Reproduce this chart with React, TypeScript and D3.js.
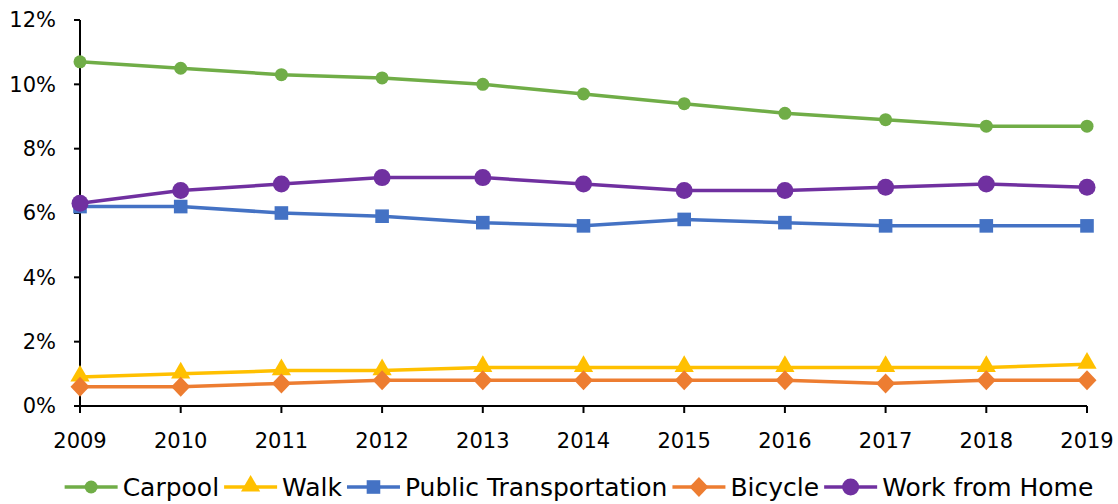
import React, { useEffect, useRef } from 'react'
import * as d3 from 'd3'

const years = ['2009', '2010', '2011', '2012', '2013', '2014', '2015', '2016', '2017', '2018', '2019']
const yTicks = [0, 2, 4, 6, 8, 10, 12]

const carpool = [10.7, 10.5, 10.3, 10.2, 10.0, 9.7, 9.4, 9.1, 8.9, 8.7, 8.7]
const walk = [0.9, 1.0, 1.1, 1.1, 1.2, 1.2, 1.2, 1.2, 1.2, 1.2, 1.3]
const publicTransportation = [6.2, 6.2, 6.0, 5.9, 5.7, 5.6, 5.8, 5.7, 5.6, 5.6, 5.6]
const bicycle = [0.6, 0.6, 0.7, 0.8, 0.8, 0.8, 0.8, 0.8, 0.7, 0.8, 0.8]
const workFromHome = [6.3, 6.7, 6.9, 7.1, 7.1, 6.9, 6.7, 6.7, 6.8, 6.9, 6.8]

type Marker = 'circle' | 'bigCircle' | 'triangle' | 'square' | 'diamond'

const series: { name: string; values: number[]; color: string; marker: Marker }[] = [
  { name: 'Carpool', values: carpool, color: '#70AD47', marker: 'circle' },
  { name: 'Walk', values: walk, color: '#FFC000', marker: 'triangle' },
  { name: 'Public Transportation', values: publicTransportation, color: '#4472C4', marker: 'square' },
  { name: 'Bicycle', values: bicycle, color: '#ED7D31', marker: 'diamond' },
  { name: 'Work from Home', values: workFromHome, color: '#7030A0', marker: 'bigCircle' },
]

const FONT = '"DejaVu Sans", sans-serif'

export default function App() {
  const svgRef = useRef<SVGSVGElement>(null)

  useEffect(() => {
    if (!svgRef.current) return
    const svg = d3.select(svgRef.current)
    svg.selectAll('*').remove()

    const left = 80
    const right = 1087
    const top = 20
    const bottom = 406

    const x = d3.scalePoint<string>().domain(years).range([left, right])
    const y = d3.scaleLinear().domain([0, 12]).range([bottom, top])

    const drawMarker = (g: d3.Selection<SVGGElement, unknown, null, undefined>, m: Marker, cx: number, cy: number, color: string) => {
      if (m === 'circle') {
        g.append('circle').attr('cx', cx).attr('cy', cy).attr('r', 6.5).attr('fill', color)
      } else if (m === 'bigCircle') {
        g.append('circle').attr('cx', cx).attr('cy', cy).attr('r', 8.5).attr('fill', color)
      } else if (m === 'diamond') {
        g.append('path')
          .attr('d', 'M0,-10L9.5,0L0,10L-9.5,0Z')
          .attr('transform', `translate(${cx},${cy})`)
          .attr('fill', color)
      } else {
        const type = m === 'triangle' ? d3.symbolTriangle : d3.symbolSquare
        const size = m === 'triangle' ? 160 : 185
        g.append('path')
          .attr('d', d3.symbol().type(type).size(size)() as string)
          .attr('transform', `translate(${cx},${cy - (m === 'triangle' ? 1 : 0)})`)
          .attr('fill', color)
      }
    }

    // Axes
    const axes = svg.append('g').attr('stroke', '#000').attr('stroke-width', 2)
    axes.append('line').attr('x1', left).attr('x2', left).attr('y1', top).attr('y2', bottom)
    axes.append('line').attr('x1', left).attr('x2', right).attr('y1', bottom).attr('y2', bottom)
    yTicks.forEach(t => {
      axes.append('line').attr('x1', left - 6).attr('x2', left).attr('y1', y(t)).attr('y2', y(t))
    })
    years.forEach(yr => {
      axes.append('line').attr('x1', x(yr)!).attr('x2', x(yr)!).attr('y1', bottom).attr('y2', bottom + 7)
    })

    svg.append('g')
      .selectAll('text')
      .data(yTicks)
      .join('text')
      .attr('x', 56)
      .attr('y', d => y(d))
      .attr('dy', '0.35em')
      .attr('text-anchor', 'end')
      .style('font-family', FONT)
      .style('font-size', '21px')
      .style('fill', '#000')
      .text(d => `${d}%`)

    svg.append('g')
      .selectAll('text')
      .data(years)
      .join('text')
      .attr('x', d => x(d)!)
      .attr('y', 448)
      .attr('text-anchor', 'middle')
      .style('font-family', FONT)
      .style('font-size', '21px')
      .style('fill', '#000')
      .text(d => d)

    // Lines, drawn back to front
    const line = d3.line<number>().x((_, i) => x(years[i])!).y(d => y(d))
    series.forEach(s => {
      const g = svg.append('g')
      g.append('path')
        .attr('d', line(s.values))
        .attr('fill', 'none')
        .attr('stroke', s.color)
        .attr('stroke-width', 3.5)
        .attr('stroke-linejoin', 'round')
      s.values.forEach((v, i) => drawMarker(g, s.marker, x(years[i])!, y(v), s.color))
    })

    // Legend
    const legend = svg.append('g')
    const ly = 487
    const sample = 53
    const items: { g: any; width: number }[] = []
    series.forEach(s => {
      const g = legend.append('g')
      g.append('line').attr('x1', 0).attr('x2', sample).attr('y1', ly).attr('y2', ly)
        .attr('stroke', s.color).attr('stroke-width', 3.5)
      drawMarker(g, s.marker, sample / 2, ly, s.color)
      const t = g.append('text')
        .attr('x', sample + 5)
        .attr('y', ly)
        .attr('dy', '0.35em')
        .style('font-family', FONT)
        .style('font-size', '25px')
        .style('fill', '#000')
        .text(s.name)
      const w = sample + 5 + (t.node() as SVGTextElement).getComputedTextLength()
      items.push({ g, width: w })
    })
    const gap = 5
    const total = d3.sum(items, d => d.width) + gap * (items.length - 1)
    let start = 579 - total / 2
    items.forEach(it => {
      it.g.attr('transform', `translate(${start},0)`)
      start += it.width + gap
    })
  }, [])

  return (
    <svg
      ref={svgRef}
      width={1118}
      height={504}
      style={{ position: 'absolute', left: 0, top: 0, background: '#fff' }}
    />
  )
}
